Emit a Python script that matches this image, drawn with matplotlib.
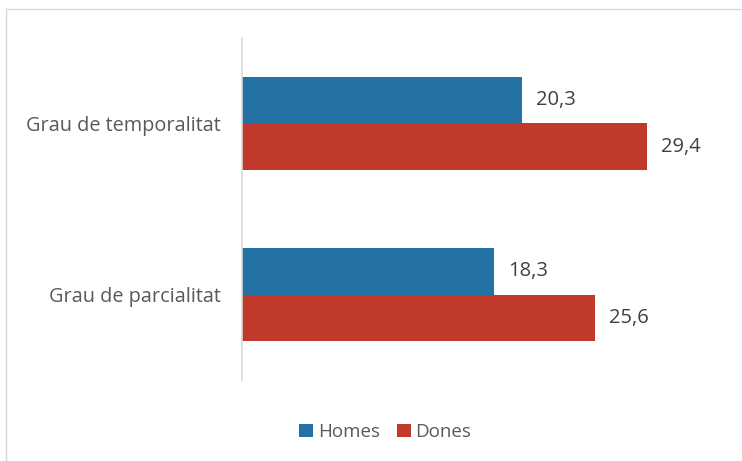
import matplotlib
matplotlib.use("Agg")
import matplotlib.pyplot as plt
from matplotlib.patches import Patch
import numpy as np

# ── Data ──────────────────────────────────────────────────────────────────────
categories = ["Grau de parcialitat", "Grau de temporalitat"]
homes = [18.3, 20.3]
dones = [25.6, 29.4]
series_names = ["Homes", "Dones"]

BLUE = "#2471A3"
RED = "#C0392B"
TEXT = "#595959"

plt.rcParams["font.family"] = ["Open Sans", "DejaVu Sans"]

W, H = 742, 461
fig = plt.figure(figsize=(W / 100, H / 100), dpi=100)
ax = fig.add_axes([242 / W, 1 - 380 / H, (724 - 242) / W, (380 - 38) / H])

y = np.arange(len(categories))
h = 0.27
ax.barh(y + h / 2, homes, height=h, color=BLUE)
ax.barh(y - h / 2, dones, height=h, color=RED)

for yi, v in zip(y + h / 2, homes):
    ax.text(v + 1.05, yi, f"{v:.1f}".replace(".", ","), va="center", ha="left",
            fontsize=14.5, color="#404040")
for yi, v in zip(y - h / 2, dones):
    ax.text(v + 1.05, yi, f"{v:.1f}".replace(".", ","), va="center", ha="left",
            fontsize=14.5, color="#404040")

ax.set_xlim(0, 35)
ax.set_ylim(-0.5, 1.5)
ax.set_yticks(y)
ax.set_yticklabels(categories, fontsize=14.3, color=TEXT)
ax.tick_params(axis="y", length=0, pad=15.5)
ax.set_xticks([])
for s in ["top", "right", "bottom"]:
    ax.spines[s].set_visible(False)
ax.spines["left"].set_color("#D9D9D9")
ax.spines["left"].set_linewidth(1.2)

handles = [Patch(facecolor=BLUE, label=series_names[0]),
           Patch(facecolor=RED, label=series_names[1])]
fig.legend(handles=handles, loc="center", bbox_to_anchor=(385 / W, 1 - 432 / H),
           ncol=2, frameon=False, fontsize=13.5, handlelength=0.75, handleheight=0.75,
           handletextpad=0.25, columnspacing=0.9, labelcolor=TEXT)

# chart frame
fig.add_artist(plt.Line2D([6 / W, 6 / W], [0, 1 - 9 / H], color="#D9D9D9",
                          lw=1, transform=fig.transFigure))
fig.add_artist(plt.Line2D([6 / W, 1], [1 - 9 / H, 1 - 9 / H], color="#D9D9D9",
                          lw=1, transform=fig.transFigure))

fig.savefig("out.png", dpi=100)
